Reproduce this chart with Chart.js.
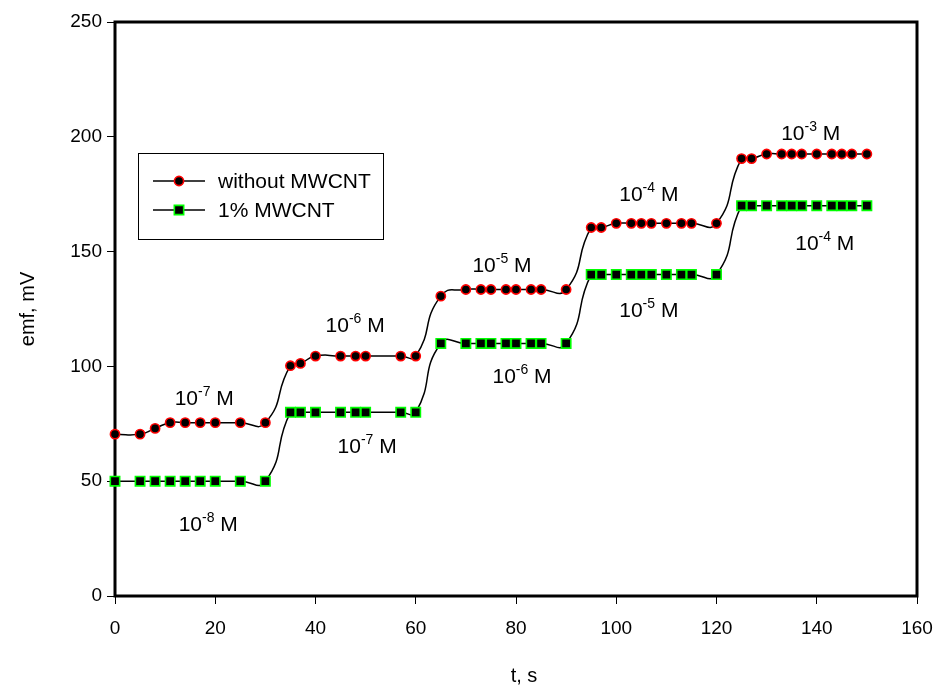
<!DOCTYPE html>
<html>
<head>
<meta charset="utf-8">
<script src="https://cdn.jsdelivr.net/npm/chart.js@4.4.0/dist/chart.umd.min.js"></script>
<style>
  html, body { margin: 0; padding: 0; background: #ffffff; }
  #wrap { width: 939px; height: 691px; }
</style>
</head>
<body>
<div id="wrap"><canvas id="chart" width="939" height="691"></canvas></div>
<script>
// Time of each reading, s
const times = [
  0, 5, 8, 11, 14, 17, 20, 25, 30,
  35, 37, 40, 45, 48, 50, 57, 60,
  65, 70, 73, 75, 78, 80, 83, 85, 90,
  95, 97, 100, 103, 105, 107, 110, 113, 115, 120,
  125, 127, 130, 133, 135, 137, 140, 143, 145, 147, 150
];
// emf, mV — electrode without MWCNT
const emfWithout = [
  70.5, 70.5, 73, 75.5, 75.5, 75.5, 75.5, 75.5, 75.5,
  100.3, 101.3, 104.5, 104.5, 104.5, 104.5, 104.5, 104.5,
  130.6, 133.5, 133.5, 133.5, 133.5, 133.5, 133.5, 133.5, 133.5,
  160.5, 160.5, 162.3, 162.3, 162.3, 162.3, 162.3, 162.3, 162.3, 162.3,
  190.5, 190.5, 192.5, 192.5, 192.5, 192.5, 192.5, 192.5, 192.5, 192.5, 192.5
];
// emf, mV — electrode with 1% MWCNT
const emfMwcnt = [
  50, 50, 50, 50, 50, 50, 50, 50, 50,
  80, 80, 80, 80, 80, 80, 80, 80,
  110, 110, 110, 110, 110, 110, 110, 110, 110,
  140, 140, 140, 140, 140, 140, 140, 140, 140, 140,
  170, 170, 170, 170, 170, 170, 170, 170, 170, 170, 170
];
const seriesNames = ['without MWCNT', '1% MWCNT'];
const xTicks = [0, 20, 40, 60, 80, 100, 120, 140, 160];
const yTicks = [0, 50, 100, 150, 200, 250];

// Concentration labels: exponent of 10 (M) and the (t, emf) point each one sits at
const concExponents = ['-7', '-8', '-6', '-7', '-5', '-6', '-4', '-5', '-3', '-4'];
const concAnchorT   = [17.8, 18.6, 47.9, 50.3, 77.2, 81.2, 106.5, 106.5, 138.8, 141.6];
const concAnchorEmf = [83, 28.2, 115, 62.2, 141, 92.7, 172, 121.5, 198.6, 150.7];

const FONT = '"Liberation Sans", Arial, Helvetica, sans-serif';

function toXY(xs, ys) { return xs.map((x, i) => ({ x: x, y: ys[i] })); }

const styleWithout = { pointStyle: 'circle', radius: 4.6, borderWidth: 1.6, fill: '#000000', stroke: '#ff0000' };
const styleMwcnt   = { pointStyle: 'rect',   radius: 6.6, borderWidth: 1.6, fill: '#000000', stroke: '#00ff00' };

const decorations = {
  id: 'decorations',
  beforeDatasetsDraw(chart) {
    const { ctx, chartArea: a } = chart;
    ctx.save();
    ctx.strokeStyle = '#000';
    ctx.lineWidth = 3;
    ctx.strokeRect(a.left, a.top, a.right - a.left, a.bottom - a.top);
    ctx.restore();
  },
  afterDatasetsDraw(chart) {
    const { ctx, chartArea: a, scales } = chart;
    ctx.save();
    ctx.fillStyle = '#000';
    ctx.textBaseline = 'alphabetic';

    // concentration labels, e.g. 10^-7 M
    const big = '21px ' + FONT, small = '14px ' + FONT;
    concExponents.forEach((ex, i) => {
      ctx.font = big;
      const w10 = ctx.measureText('10').width;
      const wM = ctx.measureText(' M').width;
      ctx.font = small;
      const wEx = ctx.measureText(ex).width;
      const total = w10 + wEx + wM;
      const cx = scales.x.getPixelForValue(concAnchorT[i]);
      const by = scales.y.getPixelForValue(concAnchorEmf[i]);
      let x = cx - total / 2;
      ctx.font = big;
      ctx.textAlign = 'left';
      ctx.fillText('10', x, by);
      x += w10;
      ctx.font = small;
      ctx.fillText(ex, x, by - 9);
      x += wEx;
      ctx.font = big;
      ctx.fillText(' M', x, by);
    });

    // legend box
    const lx = a.left + 23, ly = a.top + 131, lw = 245, lh = 86;
    ctx.lineWidth = 1;
    ctx.strokeStyle = '#000';
    ctx.strokeRect(lx + 0.5, ly + 0.5, lw, lh);
    const rows = [ly + 28, ly + 57];
    const styles = [styleWithout, styleMwcnt];
    rows.forEach((ry, i) => {
      ctx.beginPath();
      ctx.lineWidth = 1.5;
      ctx.strokeStyle = '#000';
      ctx.moveTo(lx + 15, ry);
      ctx.lineTo(lx + 67, ry);
      ctx.stroke();
      const s = styles[i];
      ctx.fillStyle = s.fill;
      ctx.strokeStyle = s.stroke;
      ctx.lineWidth = s.borderWidth;
      Chart.helpers.drawPoint(ctx, { pointStyle: s.pointStyle, radius: s.radius, rotation: 0, borderWidth: s.borderWidth }, lx + 41, ry);
      ctx.fillStyle = '#000';
      ctx.font = '21px ' + FONT;
      ctx.textAlign = 'left';
      ctx.textBaseline = 'middle';
      ctx.fillText(seriesNames[i], lx + 80, ry + 1);
    });

    // axis titles
    ctx.font = '20px ' + FONT;
    ctx.textAlign = 'center';
    ctx.textBaseline = 'middle';
    ctx.fillText('t, s', (a.left + a.right) / 2 + 8, 676);
    ctx.save();
    ctx.translate(28, (a.top + a.bottom) / 2);
    ctx.rotate(-Math.PI / 2);
    ctx.fillText('emf, mV', 0, 0);
    ctx.restore();
    ctx.restore();
  }
};

function lineDataset(label, ys, s) {
  return {
    label: label,
    data: toXY(times, ys),
    borderColor: '#000000',
    borderWidth: 1.5,
    tension: 0.55,
    fill: false,
    clip: false,
    pointStyle: s.pointStyle,
    pointRadius: s.radius,
    pointHoverRadius: s.radius,
    pointBorderWidth: s.borderWidth,
    pointBackgroundColor: s.fill,
    pointBorderColor: s.stroke
  };
}

new Chart(document.getElementById('chart'), {
  type: 'line',
  data: {
    datasets: [
      lineDataset(seriesNames[0], emfWithout, styleWithout),
      lineDataset(seriesNames[1], emfMwcnt, styleMwcnt)
    ]
  },
  plugins: [decorations],
  options: {
    responsive: false,
    animation: false,
    devicePixelRatio: 1,
    layout: { padding: { left: 0, right: 22, top: 22, bottom: 0 } },
    plugins: { legend: { display: false }, tooltip: { enabled: false } },
    scales: {
      x: {
        type: 'linear',
        min: 0, max: 160,
        afterBuildTicks: (scale) => { scale.ticks = xTicks.map(v => ({ value: v })); },
        afterFit: (scale) => { scale.height = 95; scale.paddingLeft = 0; scale.paddingRight = 0; },
        border: { display: false },
        grid: { display: true, drawOnChartArea: false, drawTicks: true, tickLength: 8, color: '#000', lineWidth: 1 },
        ticks: { color: '#000', font: { family: FONT, size: 19 }, padding: 13, maxRotation: 0 }
      },
      y: {
        type: 'linear',
        min: 0, max: 250,
        afterBuildTicks: (scale) => { scale.ticks = yTicks.map(v => ({ value: v })); },
        afterFit: (scale) => { scale.width = 115; scale.paddingTop = 0; scale.paddingBottom = 0; },
        border: { display: false },
        grid: { display: true, drawOnChartArea: false, drawTicks: true, tickLength: 8, color: '#000', lineWidth: 1 },
        ticks: { color: '#000', font: { family: FONT, size: 19 }, padding: 5 }
      }
    }
  }
});
</script>
</body>
</html>
